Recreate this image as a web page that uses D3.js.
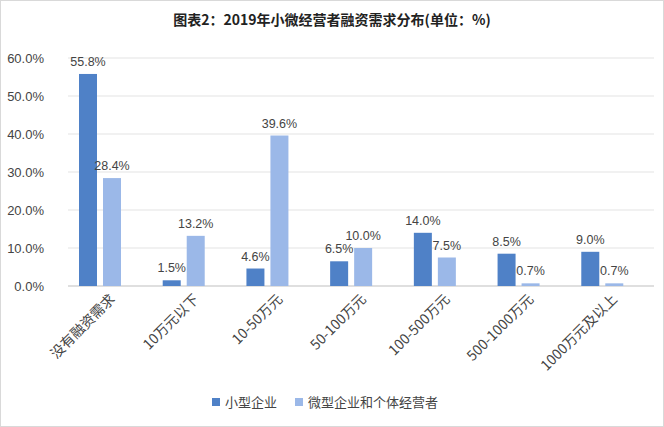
<!DOCTYPE html>
<html><head><meta charset="utf-8">
<script src="https://cdn.jsdelivr.net/npm/d3@7"></script>
<style>body{margin:0;background:#fff;font-family:"Microsoft YaHei","Noto Sans CJK SC",sans-serif}</style>
</head><body><svg id="c"></svg>
<script>
const categories = ["没有融资需求", "10万元以下", "10-50万元", "50-100万元", "100-500万元", "500-1000万元", "1000万元及以上"];
const small = [55.8, 1.5, 4.6, 6.5, 14.0, 8.5, 9.0];
const micro = [28.4, 13.2, 39.6, 10.0, 7.5, 0.7, 0.7];
const seriesNames = ["小型企业", "微型企业和个体经营者"];
const yTicks = [0, 10, 20, 30, 40, 50, 60];

const width = 664, height = 427;
const margin = { top: 58, right: 10, bottom: 141, left: 68 };
const colors = ["#4f81c7", "#9bb8e8"];

const svg = d3.select("#c").attr("width", width).attr("height", height);
svg.append("rect").attr("x", 0.5).attr("y", 0.5).attr("width", width - 1).attr("height", height - 1)
    .attr("fill", "#fff").attr("stroke", "#d9d9d9");

svg.append("text").attr("x", width / 2).attr("y", 25).attr("text-anchor", "middle")
    .attr("font-size", 14).attr("font-weight", "bold").attr("fill", "#222")
    .text("图表2：2019年小微经营者融资需求分布(单位：%)");

const x = d3.scaleBand().domain(categories).range([margin.left, width - margin.right]);
const y = d3.scaleLinear().domain([0, 60]).range([height - margin.bottom, margin.top]);

// gridlines
svg.append("g").selectAll("line").data(yTicks).join("line")
    .attr("x1", margin.left).attr("x2", width - margin.right)
    .attr("y1", d => y(d)).attr("y2", d => y(d))
    .attr("stroke", d => d === 0 ? "#bfbfbf" : "#e3e3e3");

svg.append("g").selectAll("text").data(yTicks).join("text")
    .attr("x", 44).attr("y", d => y(d) + 5).attr("text-anchor", "end")
    .attr("font-size", 13).attr("fill", "#444").attr("font-family", "Arial, Liberation Sans, sans-serif")
    .text(d => d.toFixed(1) + "%");

const barW = 18;
[small, micro].forEach((vals, si) => {
    const g = svg.append("g");
    const off = si === 0 ? 11 : 35;
    g.selectAll("rect").data(vals).join("rect")
        .attr("x", (d, i) => x(categories[i]) + off)
        .attr("y", d => y(d))
        .attr("width", barW)
        .attr("height", d => y(0) - y(d))
        .attr("fill", colors[si]);
    g.selectAll("text").data(vals).join("text")
        .attr("x", (d, i) => x(categories[i]) + off + barW / 2)
        .attr("y", d => y(d) - 8)
        .attr("text-anchor", "middle").attr("font-size", 12.5).attr("fill", "#444")
        .attr("font-family", "Arial, Liberation Sans, sans-serif")
        .text(d => d.toFixed(1) + "%");
});

// category labels
svg.append("g").selectAll("text").data(categories).join("text")
    .attr("transform", d => `translate(${x(d) + x.bandwidth() / 2 + 6},${y(0) + 14}) rotate(-45)`)
    .attr("text-anchor", "end").attr("font-size", 14).attr("fill", "#444")
    .text(d => d);

// legend
const lg = svg.append("g").attr("transform", "translate(212,403)");
let lx = 0;
seriesNames.forEach((n, i) => {
    lg.append("rect").attr("x", lx).attr("y", -5).attr("width", 8).attr("height", 8).attr("fill", colors[i]);
    lg.append("text").attr("x", lx + 13).attr("y", 4).attr("font-size", 13).attr("fill", "#444").text(n);
    lx += 13 + n.length * 13 + 18;
});
</script></body></html>
